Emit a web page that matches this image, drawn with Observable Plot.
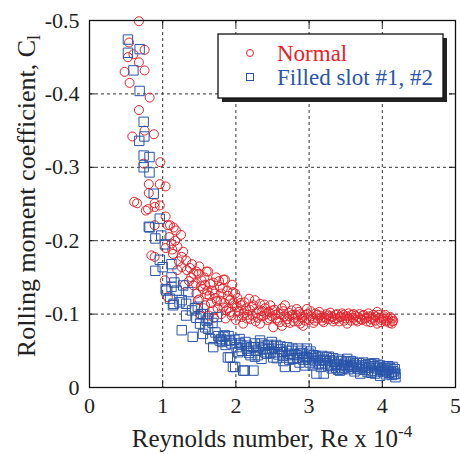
<!DOCTYPE html>
<html>
<head>
<meta charset="utf-8">
<script src="https://cdn.jsdelivr.net/npm/d3@7"></script>
<script src="https://cdn.jsdelivr.net/npm/@observablehq/plot@0.6"></script>
<style>
  body { margin: 0; background: #fff; }
  svg { display: block; }
  svg text { font-family: 'Liberation Serif', 'Times New Roman', 'DejaVu Serif', serif !important; }
</style>
</head>
<body>
<div id="chart"></div>
<script>
// Rolling moment coefficient vs Reynolds number (Re x 10^-4)

// Normal configuration
const normalRe = [
  0.675, 0.54, 0.753, 0.525, 0.60, 0.675, 0.48, 0.753, 0.548, 0.822,
  0.675, 0.585, 0.753, 0.88, 0.74, 0.968, 0.81, 0.96, 1.04, 0.81,
  0.61, 0.65, 0.89, 0.96, 0.80, 0.89, 1.04, 1.10, 1.18, 0.77,
  0.89, 1.15, 1.07, 1.25, 1.12, 1.20, 1.04, 0.845, 0.89, 1.14,
  1.26, 1.32, 1.46, 1.62, 1.26, 1.37, 1.39, 1.53, 1.85, 1.69,
  1.42, 1.55, 1.78, 1.99, 1.46, 1.64, 1.89, 1.48, 1.74, 1.92,
  1.58, 1.83, 2.01, 1.69, 1.92, 1.51, 1.03, 1.07, 1.20, 1.30,
  1.36, 1.42, 1.50, 1.58,
  1.22, 1.28, 1.33, 1.40, 1.45, 1.49, 1.57, 1.61, 1.65, 1.71,
  1.73, 1.79, 1.82, 1.87, 1.95, 1.97, 1.17, 1.09, 1.13,
  1.50, 1.52, 1.56, 1.60, 1.60, 1.63, 1.66, 1.68, 1.70, 1.72,
  1.75, 1.77, 1.80, 1.80, 1.83, 1.84, 1.86, 1.88, 1.90, 1.92,
  1.94, 1.96, 1.98, 2.00, 2.02, 2.04, 2.06, 2.08, 2.10, 2.12,
  2.14, 2.16, 2.18, 2.20, 2.22, 2.24, 2.26, 2.28, 2.30, 2.33,
  2.33, 2.36, 2.38, 2.40, 2.43, 2.45, 2.47, 2.49, 2.51, 2.53,
  2.55, 2.58, 2.60, 2.63, 2.63, 2.66, 2.67, 2.70, 2.72, 2.74,
  2.77, 2.80, 2.83, 2.85, 2.88, 2.88, 2.91, 2.92, 2.95, 2.97,
  3.00, 3.03, 3.06, 3.09, 3.12, 3.15, 3.18, 3.21, 3.24, 3.27,
  3.30, 3.33, 3.36, 3.39, 3.42, 3.45, 3.48, 3.52, 3.52, 3.55,
  3.58, 3.61, 3.64, 3.67, 3.70, 3.73, 3.76, 3.79, 3.82, 3.85,
  3.88, 3.90, 3.93, 3.93, 3.96, 3.99, 4.02, 4.05, 4.08, 4.10,
  4.13, 4.13, 4.15,
  2.03, 2.07, 2.11, 2.15, 2.19, 2.23, 2.27, 2.31, 2.35, 2.39,
  2.42, 2.46, 2.50, 2.54, 2.57, 2.61, 2.65, 2.69, 2.73, 2.76,
  2.79, 2.82, 2.86, 2.90, 2.94, 2.98, 3.02, 3.05, 3.08, 3.11,
  3.14, 3.17, 3.20, 3.23, 3.26, 3.29, 3.32, 3.35, 3.38, 3.41,
  3.44, 3.47, 3.50, 3.54, 3.57, 3.60, 3.63, 3.66, 3.69, 3.72,
  3.75, 3.78, 3.81, 3.84, 3.87, 3.91, 3.95, 3.98, 4.01, 4.04,
  4.07, 4.11, 4.14
];
const normalCl = [
  -0.499, -0.470, -0.460, -0.450, -0.454, -0.443, -0.430, -0.432, -0.415, -0.395,
  -0.378, -0.342, -0.350, -0.345, -0.305, -0.307, -0.277, -0.277, -0.274, -0.265,
  -0.253, -0.251, -0.251, -0.248, -0.243, -0.246, -0.233, -0.221, -0.214, -0.241,
  -0.221, -0.218, -0.221, -0.208, -0.196, -0.192, -0.190, -0.180, -0.178, -0.182,
  -0.178, -0.173, -0.158, -0.158, -0.164, -0.163, -0.150, -0.146, -0.147, -0.143,
  -0.139, -0.134, -0.137, -0.128, -0.128, -0.125, -0.125, -0.119, -0.118, -0.119,
  -0.112, -0.109, -0.109, -0.105, -0.103, -0.100, -0.146, -0.123, -0.160, -0.140,
  -0.145, -0.155, -0.165, -0.140,
  -0.172, -0.185, -0.160, -0.168, -0.142, -0.155, -0.150, -0.132, -0.141, -0.128,
  -0.150, -0.118, -0.135, -0.105, -0.140, -0.115, -0.200, -0.205, -0.188,
  -0.120, -0.138, -0.108, -0.158, -0.127, -0.098, -0.115, -0.132, -0.095, -0.122,
  -0.108, -0.145, -0.100, -0.128, -0.147, -0.115, -0.094, -0.132, -0.108, -0.119,
  -0.098, -0.130, -0.112, -0.092, -0.122, -0.104, -0.115, -0.096, -0.087, -0.116,
  -0.108, -0.099, -0.121, -0.093, -0.110, -0.112, -0.119, -0.101, -0.095, -0.114,
  -0.087, -0.104, -0.098, -0.108, -0.092, -0.103, -0.112, -0.097, -0.082, -0.106,
  -0.094, -0.101, -0.089, -0.084, -0.108, -0.097, -0.112, -0.093, -0.102, -0.088,
  -0.099, -0.095, -0.107, -0.090, -0.087, -0.100, -0.094, -0.084, -0.099, -0.107,
  -0.092, -0.097, -0.088, -0.101, -0.094, -0.098, -0.091, -0.096, -0.100, -0.093,
  -0.097, -0.090, -0.099, -0.094, -0.096, -0.101, -0.091, -0.087, -0.097, -0.094,
  -0.099, -0.100, -0.092, -0.096, -0.093, -0.098, -0.094, -0.090, -0.097, -0.093,
  -0.099, -0.091, -0.103, -0.087, -0.095, -0.092, -0.097, -0.090, -0.094, -0.088,
  -0.094, -0.087, -0.091,
  -0.098, -0.112, -0.101, -0.094, -0.106, -0.098, -0.090, -0.105, -0.097, -0.113,
  -0.100, -0.094, -0.105, -0.099, -0.091, -0.100, -0.104, -0.089, -0.097, -0.105,
  -0.090, -0.099, -0.103, -0.096, -0.091, -0.100, -0.104, -0.094, -0.091, -0.099,
  -0.103, -0.095, -0.089, -0.094, -0.098, -0.102, -0.096, -0.093, -0.100, -0.090,
  -0.097, -0.099, -0.094, -0.101, -0.091, -0.095, -0.098, -0.090, -0.100, -0.092,
  -0.099, -0.095, -0.101, -0.089, -0.095, -0.097, -0.099, -0.089, -0.094, -0.099,
  -0.091, -0.096, -0.090
];

// Filled slot #1, #2
const filledRe = [
  0.525, 0.525, 0.685, 0.60, 0.685, 0.74, 0.75, 0.68, 0.74, 0.82,
  0.74, 0.82, 0.877, 0.81, 0.96, 0.82, 0.90, 0.98, 1.03, 0.96,
  1.12, 0.90, 1.00, 1.12, 1.16, 1.04, 1.12, 1.28, 1.05, 1.19,
  1.35, 1.10, 1.26, 1.15, 1.23, 1.14, 1.32, 1.32, 1.46, 1.62,
  1.26, 1.41, 1.51, 1.60, 1.62, 1.55, 1.40, 1.48, 1.55, 1.68,
  1.74,
  1.72, 1.76, 1.81, 1.86, 1.90, 1.94, 1.98, 2.03, 2.07, 2.13,
  2.17, 2.20, 2.26, 2.31, 2.39, 2.44, 2.47, 2.52, 1.58, 1.65,
  1.52, 1.44,
  1.69, 1.78, 1.80, 1.83, 1.85, 1.87, 1.89, 1.92, 1.92, 1.96,
  1.99, 2.01, 2.05, 2.05, 2.08, 2.10, 2.12, 2.15, 2.15, 2.18,
  2.21, 2.24, 2.24, 2.26, 2.28, 2.30, 2.33, 2.35, 2.35, 2.37,
  2.40, 2.42, 2.45, 2.49, 2.49, 2.51, 2.53,
  2.55, 2.58, 2.60, 2.63, 2.65, 2.67, 2.70, 2.72, 2.74, 2.76,
  2.78, 2.81, 2.83, 2.85, 2.88, 2.90, 2.92, 2.95, 2.97, 2.97,
  3.00, 3.01, 3.04, 3.06, 3.08, 3.10, 3.12, 3.15, 3.18, 3.20,
  3.22, 3.24, 3.26, 3.29, 3.31, 3.33, 3.35, 3.38, 3.40, 3.42,
  3.44, 3.46, 3.48, 3.50, 3.52, 3.54, 3.56, 3.58, 3.60, 3.62,
  3.64, 3.66, 3.68, 3.70, 3.72, 3.74, 3.76, 3.78, 3.80, 3.82,
  3.84, 3.86, 3.88, 3.90, 3.92, 3.94, 3.97, 3.97, 3.99, 4.01,
  4.03, 4.05, 4.07, 4.09, 4.11, 4.13, 4.15, 4.17, 4.18, 4.18,
  2.56, 2.61, 2.64, 2.69, 2.73, 2.77, 2.80, 2.84, 2.87, 2.91,
  2.94, 2.99, 3.02, 3.05, 3.09, 3.13, 3.16, 3.19, 3.23, 3.27,
  3.30, 3.34, 3.37, 3.41, 3.45, 3.49, 3.53, 3.57, 3.61, 3.65,
  3.69, 3.73, 3.77, 3.81, 3.85, 3.89, 3.93, 3.96, 4.00, 4.04,
  4.08, 4.12, 4.16, 4.14
];
const filledCl = [
  -0.474, -0.456, -0.461, -0.432, -0.404, -0.362, -0.342, -0.336, -0.316, -0.314,
  -0.300, -0.293, -0.264, -0.219, -0.230, -0.218, -0.203, -0.207, -0.195, -0.174,
  -0.168, -0.159, -0.164, -0.150, -0.143, -0.134, -0.137, -0.139, -0.132, -0.132,
  -0.130, -0.121, -0.119, -0.114, -0.116, -0.112, -0.114, -0.098, -0.095, -0.094,
  -0.078, -0.069, -0.087, -0.091, -0.080, -0.073, -0.105, -0.110, -0.100, -0.088,
  -0.096,
  -0.075, -0.070, -0.062, -0.058, -0.070, -0.060, -0.065, -0.048, -0.058, -0.062,
  -0.050, -0.044, -0.060, -0.055, -0.057, -0.058, -0.047, -0.056, -0.082, -0.066,
  -0.100, -0.108,
  -0.055, -0.064, -0.066, -0.069, -0.071, -0.064, -0.041, -0.064, -0.041, -0.028,
  -0.028, -0.055, -0.060, -0.066, -0.050, -0.023, -0.023, -0.053, -0.057, -0.047,
  -0.055, -0.023, -0.055, -0.042, -0.050, -0.044, -0.064, -0.060, -0.039, -0.053,
  -0.048, -0.046, -0.052, -0.062, -0.053, -0.041, -0.048,
  -0.058, -0.045, -0.052, -0.048, -0.036, -0.028, -0.055, -0.044, -0.046, -0.050,
  -0.039, -0.028, -0.044, -0.053, -0.047, -0.050, -0.038, -0.030, -0.041, -0.053,
  -0.046, -0.034, -0.040, -0.044, -0.036, -0.019, -0.041, -0.037, -0.043, -0.019,
  -0.033, -0.041, -0.029, -0.037, -0.026, -0.040, -0.031, -0.032, -0.024, -0.023,
  -0.036, -0.030, -0.027, -0.034, -0.039, -0.025, -0.031, -0.028, -0.035, -0.022,
  -0.030, -0.026, -0.033, -0.019, -0.028, -0.034, -0.024, -0.030, -0.021, -0.027,
  -0.032, -0.023, -0.029, -0.019, -0.026, -0.031, -0.030, -0.016, -0.024, -0.021,
  -0.027, -0.018, -0.024, -0.020, -0.026, -0.017, -0.022, -0.025, -0.014, -0.019,
  -0.040, -0.056, -0.043, -0.050, -0.038, -0.053, -0.045, -0.040, -0.034, -0.046,
  -0.042, -0.038, -0.049, -0.030, -0.043, -0.033, -0.028, -0.038, -0.036, -0.042,
  -0.030, -0.035, -0.027, -0.038, -0.025, -0.031, -0.029, -0.036, -0.028, -0.033,
  -0.025, -0.030, -0.027, -0.032, -0.020, -0.033, -0.022, -0.028, -0.026, -0.023,
  -0.029, -0.021, -0.018, -0.028
];

const xTicks = [0, 1, 2, 3, 4, 5];
const yTicks = [0, -0.1, -0.2, -0.3, -0.4, -0.5];
const seriesNames = ["Normal", "Filled slot #1, #2"];
const seriesColors = ["#e3242b", "#2a55aa"];

const normal = normalRe.map((re, i) => ({re, cl: normalCl[i]}));
const filled = filledRe.map((re, i) => ({re, cl: filledCl[i]}));
const innerX = xTicks.slice(1, -1);
const innerY = yTicks.slice(1, -1);

const serif = "'Liberation Serif', 'Times New Roman', 'DejaVu Serif', serif";
const axisText = {fontFamily: serif, fontSize: 22, fill: "#222"};

const plot = Plot.plot({
  width: 460,
  height: 454,
  marginLeft: 89,
  marginRight: 5,
  marginTop: 20,
  marginBottom: 67,
  style: {fontFamily: serif, fontSize: "22px", background: "#fff", color: "#222"},
  x: {domain: [0, 5]},
  y: {domain: [0, -0.5]},
  marks: [
    // dashed grid
    Plot.ruleX(innerX, {stroke: "#333", strokeWidth: 1, strokeDasharray: "3,3"}),
    Plot.ruleY(innerY, {stroke: "#333", strokeWidth: 1, strokeDasharray: "3,3"}),
    // inward tick marks on all four sides
    Plot.ruleX(innerX, {y1: 0, y2: -0.008, stroke: "#111"}),
    Plot.ruleX(innerX, {y1: -0.5, y2: -0.492, stroke: "#111"}),
    Plot.ruleY(innerY, {x1: 0, x2: 0.08, stroke: "#111"}),
    Plot.ruleY(innerY, {x1: 4.92, x2: 5, stroke: "#111"}),
    // data
    Plot.dot(normal, {x: "re", y: "cl", r: 4.5, stroke: seriesColors[0], strokeWidth: 1, fill: "none"}),
    Plot.dot(filled, {x: "re", y: "cl", symbol: "square", r: 5.3, stroke: seriesColors[1], strokeWidth: 1, fill: "none"}),
    Plot.frame({stroke: "#111", strokeWidth: 1.3}),
    Plot.axisX(xTicks, {tickSize: 0, tickPadding: 10, label: null, tickFormat: d => String(d), ...axisText}),
    Plot.axisY(yTicks, {tickSize: 0, tickPadding: 10, label: null, tickFormat: d => d === 0 ? "0" : d.toFixed(1), ...axisText})
  ]
});

const svg = d3.select(plot);

// axis titles
const xt = svg.append("text")
  .attr("x", 272).attr("y", 447)
  .attr("text-anchor", "middle")
  .style("font-family", serif).attr("font-size", 25).attr("fill", "#222");
xt.append("tspan").text("Reynolds number, Re x 10");
xt.append("tspan").attr("dy", -10).attr("font-size", 17).text("-4");

const yt = svg.append("text")
  .attr("transform", "translate(35,196) rotate(-90)")
  .attr("text-anchor", "middle")
  .style("font-family", serif).attr("font-size", 26).attr("fill", "#222");
yt.append("tspan").text("Rolling moment coefficient, C");
yt.append("tspan").attr("dy", 5).attr("font-size", 18).text("l");

// legend box with drop shadow
const lg = svg.append("g");
lg.append("rect").attr("x", 222).attr("y", 38).attr("width", 225).attr("height", 64).attr("fill", "#222");
lg.append("rect").attr("x", 218).attr("y", 34).attr("width", 225).attr("height", 64)
  .attr("fill", "#fff").attr("stroke", "#111").attr("stroke-width", 1.3);

const rowY = [53, 77];
lg.append("circle").attr("cx", 250).attr("cy", rowY[0]).attr("r", 3.5)
  .attr("fill", "none").attr("stroke", seriesColors[0]).attr("stroke-width", 1);
lg.append("rect").attr("x", 246.5).attr("y", rowY[1] - 3.5).attr("width", 7).attr("height", 7)
  .attr("fill", "none").attr("stroke", seriesColors[1]).attr("stroke-width", 1);
seriesNames.forEach((name, i) => {
  lg.append("text").attr("x", 277).attr("y", rowY[i] + 8)
    .attr("text-anchor", "start")
    .style("font-family", serif).attr("font-size", 23)
    .attr("fill", seriesColors[i]).text(name);
});

document.getElementById("chart").appendChild(plot);
</script>
</body>
</html>
